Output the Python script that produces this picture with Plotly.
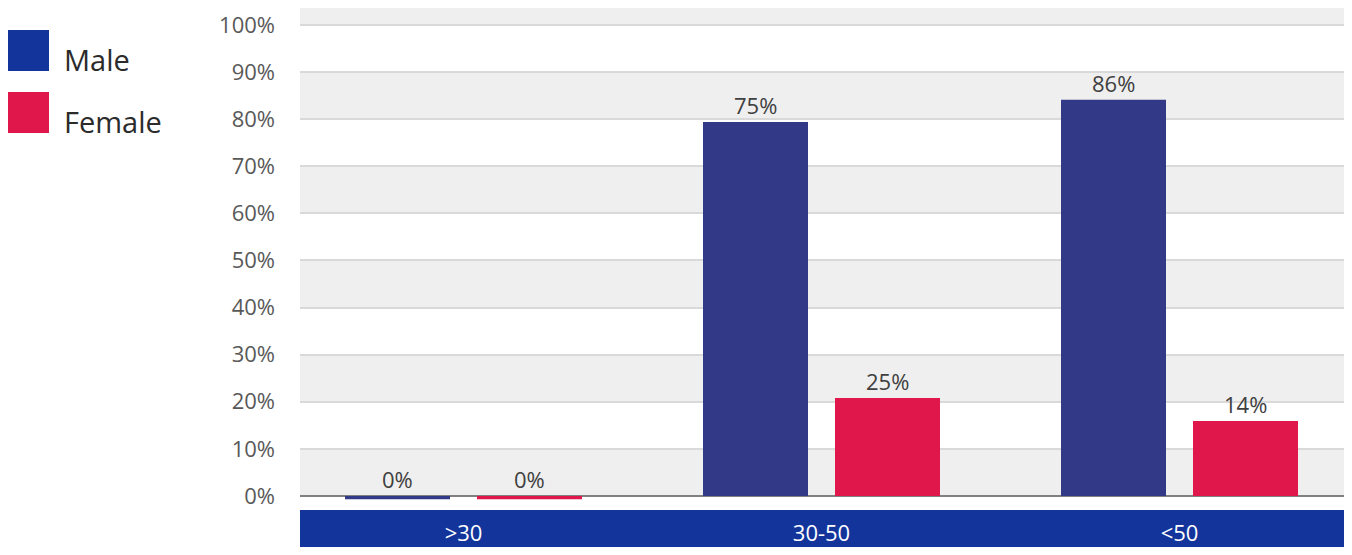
import plotly.graph_objects as go

categories = [">30", "30-50", "<50"]
male_values = [-0.7, 79.4, 84.1]
female_values = [-0.7, 20.8, 15.9]
male_labels = ["0%", "75%", "86%"]
female_labels = ["0%", "25%", "14%"]
y_ticks = list(range(0, 101, 10))
y_tick_text = [f"{v}%" for v in y_ticks]
series_names = ["Male", "Female"]

# page body has an 8px margin; figure sized to avoid scrollbars
OFF = 8
W, H = 1352 - 2 * OFF, 555 - 2 * OFF
ML, MR, MT, MB = 300 - OFF, 0, 0, 39
FONT = "Open Sans"
MALE_C = "#323A87"
FEMALE_C = "#E0174B"
LEG_MALE_C = "#13349B"
BAND_C = "#13349B"
Y_MIN, Y_MAX = -2.55, 103.6

plot_w = W - ML - MR
plot_h = H - MT - MB


def px_x(sx):
    return (sx - OFF - ML) / plot_w


def px_y(sy):
    return (H - MB - (sy - OFF)) / plot_h


fig = go.Figure()
fig.add_trace(go.Bar(x=categories, y=male_values, name=series_names[0],
                     marker=dict(color=MALE_C, line=dict(width=0))))
fig.add_trace(go.Bar(x=categories, y=female_values, name=series_names[1],
                     marker=dict(color=FEMALE_C, line=dict(width=0))))

shapes = []
for lo in range(0, 101, 20):
    hi = min(lo + 10, Y_MAX)
    shapes.append(dict(type="rect", xref="paper", yref="y", x0=0, x1=1, y0=lo, y1=hi,
                       fillcolor="#EFEFEF", line=dict(width=0), layer="below"))
shapes.append(dict(type="rect", xref="paper", yref="paper", x0=0, x1=1,
                   y0=px_y(555 - OFF), y1=px_y(510), fillcolor=BAND_C, line=dict(width=0), layer="below"))
shapes.append(dict(type="rect", xref="paper", yref="paper", x0=px_x(8), x1=px_x(49),
                   y0=px_y(71), y1=px_y(30), fillcolor=LEG_MALE_C, line=dict(width=0)))
shapes.append(dict(type="rect", xref="paper", yref="paper", x0=px_x(8), x1=px_x(49),
                   y0=px_y(133), y1=px_y(92), fillcolor=FEMALE_C, line=dict(width=0)))

annotations = []
for cat, mv, ml, fv, fl in zip(categories, male_values, male_labels, female_values, female_labels):
    for v, lab, shift in ((mv, ml, -66), (fv, fl, 66)):
        annotations.append(dict(x=cat, y=max(v, 0), text=lab, showarrow=False, xref="x", yref="y",
                                xanchor="center", yanchor="bottom", xshift=shift, yshift=0,
                                font=dict(family=FONT, size=22, color="#404040")))
annotations.append(dict(x=px_x(62), y=px_y(60), xref="paper", yref="paper", text=series_names[0],
                        showarrow=False, xanchor="left", yanchor="middle",
                        font=dict(family=FONT, size=29, color="#2B2B2B")))
annotations.append(dict(x=px_x(62), y=px_y(122), xref="paper", yref="paper", text=series_names[1],
                        showarrow=False, xanchor="left", yanchor="middle",
                        font=dict(family=FONT, size=29, color="#2B2B2B")))

fig.update_layout(
    width=W, height=H,
    margin=dict(l=ML, r=MR, t=MT, b=MB, pad=0),
    paper_bgcolor="white", plot_bgcolor="white",
    barmode="group", bargap=0.2626, bargroupgap=0.2045,
    showlegend=False,
    shapes=shapes, annotations=annotations,
    font=dict(family=FONT),
)
fig.update_xaxes(
    type="category", range=[-0.4567, 2.4595], showgrid=False, zeroline=False,
    showline=False, ticks="", ticklabelstandoff=10,
    tickfont=dict(family=FONT, size=22, color="white"),
)
fig.update_yaxes(
    range=[Y_MIN, Y_MAX], tickvals=y_ticks, ticktext=y_tick_text,
    showgrid=True, gridcolor="#D9D9D9", gridwidth=2,
    zeroline=True, zerolinecolor="#808080", zerolinewidth=2,
    showline=False, ticks="", ticklabelstandoff=24,
    tickfont=dict(family=FONT, size=22, color="#595959"),
)

fig.write_html("out.html")
